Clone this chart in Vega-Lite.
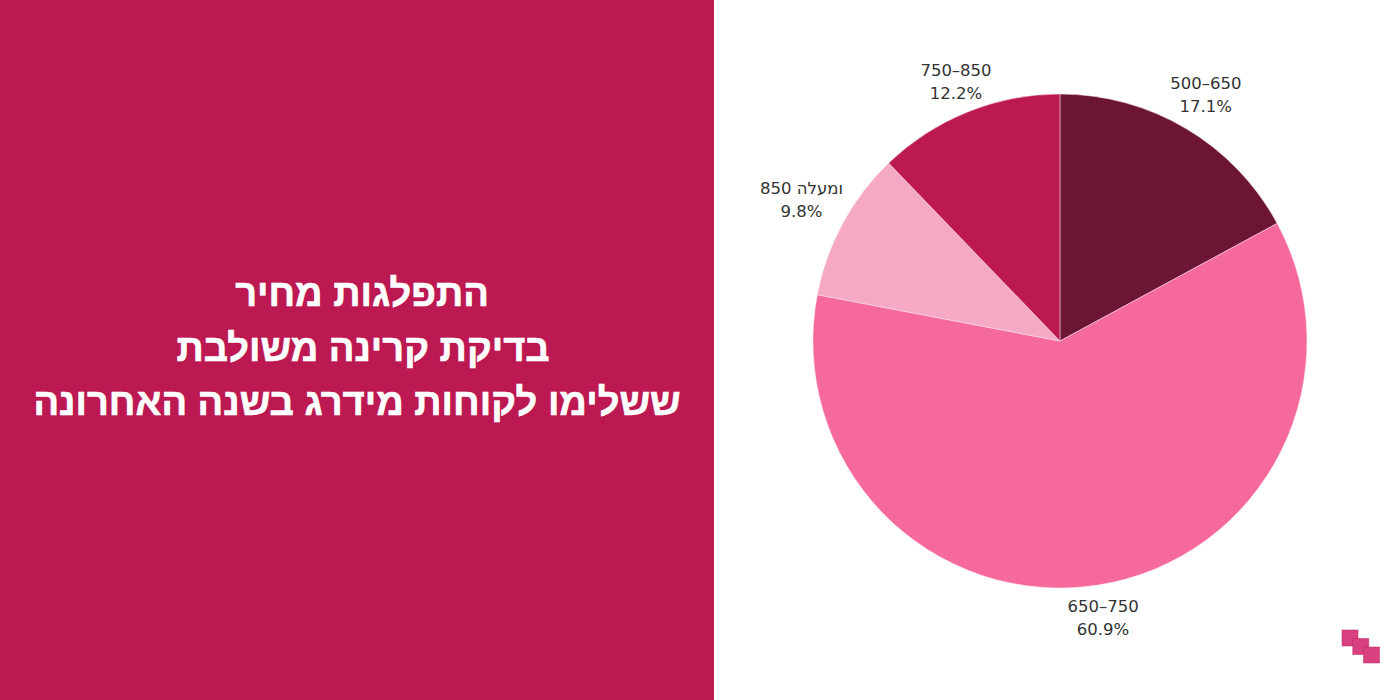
{
"$schema":"https://vega.github.io/schema/vega-lite/v6.json",
"padding":0,"spacing":0,"background":"#ffffff","autosize":{"type":"pad","contains":"content"},
"config":{"view":{"stroke":null},"concat":{"spacing":0}},
"hconcat":[
{"width":714,"height":700,"view":{"fill":"#bc1952","stroke":null},
 "data":{"values":[{"line":0,"text":"התפלגות מחיר"},{"line":1,"text":"בדיקת קרינה משולבת"},{"line":2,"text":"ששלימו לקוחות מידרג בשנה האחרונה"}]},
 "encoding":{"y":{"field":"line","type":"quantitative","axis":null,"scale":{"domain":[-5.413,7.431],"reverse":true,"nice":false,"zero":false}},"text":{"field":"text"}},
 "layer":[
  {"transform":[{"filter":"datum.line === 0"}],"mark":{"type":"text","dx":5,"font":"Liberation Sans","fontWeight":"bold","fontSize":38,"color":"#ffffff","stroke":"#ffffff","strokeWidth":0.6,"baseline":"middle","align":"center"}},
  {"transform":[{"filter":"datum.line === 1"}],"mark":{"type":"text","dx":6,"font":"Liberation Sans","fontWeight":"bold","fontSize":38,"color":"#ffffff","stroke":"#ffffff","strokeWidth":0.6,"baseline":"middle","align":"center"}},
  {"transform":[{"filter":"datum.line === 2"}],"mark":{"type":"text","dx":0,"font":"Liberation Sans","fontWeight":"bold","fontSize":38,"color":"#ffffff","stroke":"#ffffff","strokeWidth":0.6,"baseline":"middle","align":"center"}}
 ]
},
{"width":686,"height":700,
 "layer":[
 {"data":{"name":"slices","values":[{"idx":1,"range":"500–650","share":17.1,"label":"500–650\n17.1%"},{"idx":2,"range":"650–750","share":60.9,"label":"650–750\n60.9%"},{"idx":3,"range":"850 ומעלה","share":9.8,"label":"850 ומעלה\n9.8%"},{"idx":4,"range":"750–850","share":12.2,"label":"750–850\n12.2%"}]},
  "encoding":{"theta":{"field":"share","type":"quantitative","stack":true},"order":{"field":"idx"},
   "x":{"datum":-25.98,"type":"quantitative","axis":null,"scale":{"domain":[-58.163,5.651],"nice":false,"zero":false}},
   "y":{"datum":-33.94,"type":"quantitative","axis":null,"scale":{"domain":[-74.06,8.294],"reverse":true,"nice":false,"zero":false}}},
  "layer":[
   {"mark":{"type":"arc","outerRadius":247,"stroke":"#fbe3ec","strokeWidth":0.5},
    "encoding":{"color":{"field":"range","type":"nominal","legend":null,"sort":null,"scale":{"domain":["500–650","650–750","850 ומעלה","750–850"],"range":["#6d1535","#f5699d","#f6a9c4","#bc1952"]}}}},
   {"mark":{"type":"text","radius":285,"dy":-12,"lineBreak":"\n","lineHeight":23,"font":"DejaVu Sans","fontSize":16.5,"color":"#333333","align":"center","baseline":"middle"},
    "encoding":{"text":{"condition":{"test":"datum.idx !== 1","value":""},"field":"label"}}},
   {"mark":{"type":"text","radius":281,"dy":-12,"lineBreak":"\n","lineHeight":23,"font":"DejaVu Sans","fontSize":16.5,"color":"#333333","align":"center","baseline":"middle"},
    "encoding":{"text":{"condition":{"test":"datum.idx !== 2","value":""},"field":"label"}}},
   {"mark":{"type":"text","radius":294,"dy":-12,"lineBreak":"\n","lineHeight":23,"font":"DejaVu Sans","fontSize":16.5,"color":"#333333","align":"center","baseline":"middle"},
    "encoding":{"text":{"condition":{"test":"datum.idx !== 3","value":""},"field":"label"}}},
   {"mark":{"type":"text","radius":278,"dy":-12,"lineBreak":"\n","lineHeight":23,"font":"DejaVu Sans","fontSize":16.5,"color":"#333333","align":"center","baseline":"middle"},
    "encoding":{"text":{"condition":{"test":"datum.idx !== 4","value":""},"field":"label"}}}
  ]},
 {"data":{"values":[{"step":1},{"step":2},{"step":3}]},
  "mark":{"type":"point","shape":"square","filled":true,"size":256,"color":"#d9407f","stroke":"#b8275f","strokeWidth":0.5,"opacity":1},
  "encoding":{"x":{"field":"step","type":"quantitative","axis":null,"scale":{"domain":[-58.163,5.651],"nice":false,"zero":false}},"y":{"field":"step","type":"quantitative","axis":null,"scale":{"domain":[-74.06,8.294],"reverse":true,"nice":false,"zero":false}}}}
 ]
}
],
"resolve":{"scale":{"color":"independent"}}
}
